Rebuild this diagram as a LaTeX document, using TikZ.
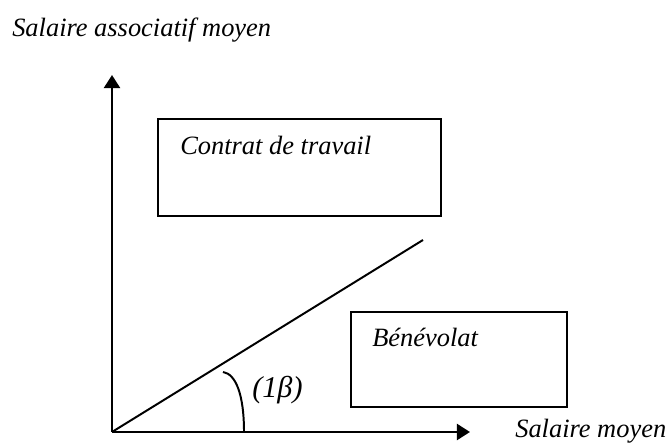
\documentclass[tikz,border=0pt]{standalone}
\usepackage{fontspec}
\setmainfont{Liberation Serif}
\usepackage{tikz}
\usetikzlibrary{arrows.meta}
\tikzset{lbl/.style={font=\fontsize{18.8}{22}\selectfont\itshape, inner sep=0pt, anchor=base west},
 axis/.style={line width=2pt, -{Triangle[length=3.3mm,width=4mm]}},
 box/.style={draw, line width=1.3pt, inner sep=0pt},
 }

\begin{document}
\begin{tikzpicture}
        \useasboundingbox (0, 0) rectangle (16.75, 11.15);
        \coordinate (O) at (2.8, .35);
        \coordinate (ytop) at (2.8, 9.275);
        \coordinate (xend) at (11.75, .35);
        \coordinate (dend) at (10.575, 5.15);
        \draw [axis] (O) -- (ytop);
        \draw [axis] (O) -- (xend);
        \draw [line width=1.4pt] (O) -- (dend);
        \coordinate (arcA) at (5.575, 1.85);
        \coordinate (arcB) at (6.1, .35);
        \draw [line width=1.4pt] (arcA) .. controls (5.9, 1.8) and (6.1, 1.275) .. (arcB);
        \node [box, minimum width=7.075cm, minimum height=2.425cm] (contrat) at (7.4875, 6.9625) {};
        \node [box, minimum width=5.4cm, minimum height=2.375cm] (benevolat) at (11.475, 2.1625) {};
        \node [lbl] (tcontrat) at (4.5, 7.275) {Contrat de travail};
        \node [lbl] (tbenev) at (9.3, 2.475) {Bénévolat};
        \node [lbl] (ylabel) at (.3, 10.225) {Salaire associatif moyen};
        \node [lbl] (xlabel) at (12.875, .2) {Salaire moyen};
        \node [lbl, font=\fontsize{21.5}{24}\selectfont\itshape] (angle) at (6.3, 1.2) {(1β)};
    \end{tikzpicture}
\end{document}
